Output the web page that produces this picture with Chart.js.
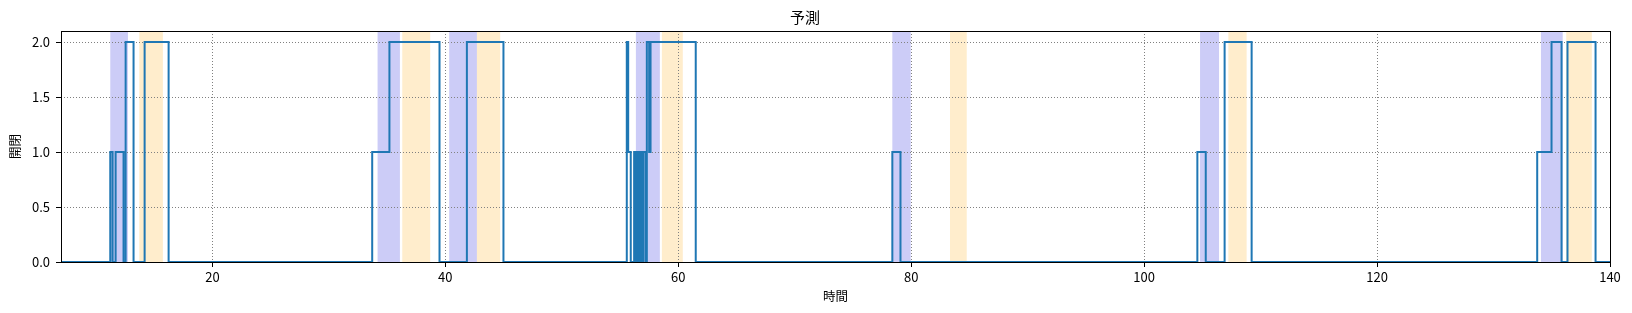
<!DOCTYPE html>
<html>
<head>
<meta charset="utf-8">
<script src="https://cdn.jsdelivr.net/npm/chart.js@4/dist/chart.umd.min.js"></script>
<style>
	html, body { margin: 0; padding: 0; background: #fff; }
	#wrap { width: 1632px; height: 313px; }
</style>
</head>
<body>
<div id="wrap"><canvas id="chartPred"></canvas></div>
<script>
// change points of the step line (time, value held until the next time)
const stepTimes = [7, 11.23, 11.43, 11.69, 12.37, 12.55, 13.23, 14.18, 16.24,
	33.72, 35.2, 39.5, 41.85, 44.99,
	55.58, 55.7, 55.92, 56.21, 56.35, 56.45, 56.58, 56.7, 56.87, 57.0, 57.2, 57.3, 57.5, 57.62, 61.5,
	78.38, 79.08,
	104.57, 105.29, 106.91, 109.23,
	133.75, 134.98, 135.84, 136.35, 138.76, 140];
const stepValues = [0, 1, 0, 1, 0, 2, 0, 2, 0,
	1, 2, 0, 2, 0,
	2, 1, 0, 1, 0, 1, 0, 1, 0, 1, 0, 2, 1, 2, 0,
	1, 0,
	1, 0, 2, 0,
	1, 2, 0, 2, 0, 0];

// shaded spans [start, end]
const blueSpans = [[11.23, 12.75], [34.18, 36.1], [40.33, 42.71], [56.36, 58.42], [78.38, 79.96], [104.8, 106.43], [134.07, 135.94]];
const orangeSpans = [[13.72, 15.75], [36.3, 38.7], [42.71, 44.71], [58.59, 60.39], [83.33, 84.77], [107.23, 108.8], [136.24, 138.44]];

const xTicks = [20, 40, 60, 80, 100, 120, 140];
const yTicks = [0, 0.5, 1.0, 1.5, 2.0];

const fontFamily = '"Noto Sans CJK JP", "Noto Sans", sans-serif';

const spanPlugin = {
	id: 'spans',
	beforeDraw(chart) {
		const ctx = chart.ctx;
		const area = chart.chartArea;
		const x = chart.scales.x;
		ctx.save();
		function drawSpans(list, color) {
			ctx.fillStyle = color;
			list.forEach(function (s) {
				let x0 = x.getPixelForValue(s[0]);
				let x1 = x.getPixelForValue(s[1]);
				ctx.fillRect(x0, area.top, x1 - x0, area.bottom - area.top);
			});
		}
		drawSpans(blueSpans, 'rgba(0, 0, 215, 0.2)');
		drawSpans(orangeSpans, 'rgba(255, 165, 0, 0.2)');
		ctx.restore();
	}
};

const framePlugin = {
	id: 'frame',
	afterDraw(chart) {
		const ctx = chart.ctx;
		const a = chart.chartArea;
		ctx.save();
		ctx.strokeStyle = '#000';
		ctx.lineWidth = 1;
		ctx.strokeRect(Math.round(a.left) + 0.5, Math.round(a.top) + 0.5,
			Math.round(a.right - a.left), Math.round(a.bottom - a.top));
		ctx.restore();
	}
};

let points = stepTimes.map(function (t, i) { return {x: t, y: stepValues[i]}; });

window.chartPred = new Chart(document.getElementById('chartPred').getContext('2d'), {
	type: 'line',
	data: {
		datasets: [{
			data: points,
			borderColor: '#1f77b4',
			borderWidth: 2,
			pointRadius: 0,
			stepped: true,
			fill: false
		}]
	},
	options: {
		responsive: true,
		maintainAspectRatio: false,
		animation: false,
		layout: { padding: { left: 0, right: 22, top: 0, bottom: 0 } },
		plugins: {
			legend: { display: false },
			tooltip: { enabled: false },
			title: {
				display: true,
				text: '予測',
				color: '#000',
				font: { family: fontFamily, size: 15, weight: 'normal' },
				padding: { top: 8, bottom: 5 }
			}
		},
		scales: {
			x: {
				type: 'linear',
				min: 7,
				max: 140,
				afterBuildTicks: function (scale) {
					scale.ticks = xTicks.map(function (v) { return {value: v}; });
				},
				afterFit: function (scale) { scale.height = 51; },
				ticks: {
					color: '#000',
					font: { family: fontFamily, size: 13 },
					padding: 2,
					maxRotation: 0
				},
				grid: {
					color: '#808080',
					lineWidth: 1,
					tickLength: 5,
					tickColor: '#000',
					tickBorderDash: []
				},
				border: { display: false, dash: [1, 2] },
				title: {
					display: true,
					text: '時間',
					color: '#000',
					font: { family: fontFamily, size: 12.5 },
					padding: { top: 0, bottom: 9 }
				}
			},
			y: {
				type: 'linear',
				min: 0,
				max: 2.1,
				afterBuildTicks: function (scale) {
					scale.ticks = yTicks.map(function (v) { return {value: v}; });
				},
				afterFit: function (scale) { scale.width = 61; },
				ticks: {
					color: '#000',
					font: { family: fontFamily, size: 13 },
					padding: 6,
					callback: function (v) { return Number(v).toFixed(1); }
				},
				grid: {
					color: '#808080',
					lineWidth: 1,
					tickLength: 5,
					tickColor: '#000',
					tickBorderDash: []
				},
				border: { display: false, dash: [1, 2] },
				title: {
					display: true,
					text: '開閉',
					color: '#000',
					font: { family: fontFamily, size: 12.5 },
					padding: { top: 8, bottom: 0 }
				}
			}
		}
	},
	plugins: [spanPlugin, framePlugin]
});
</script>
</body>
</html>
